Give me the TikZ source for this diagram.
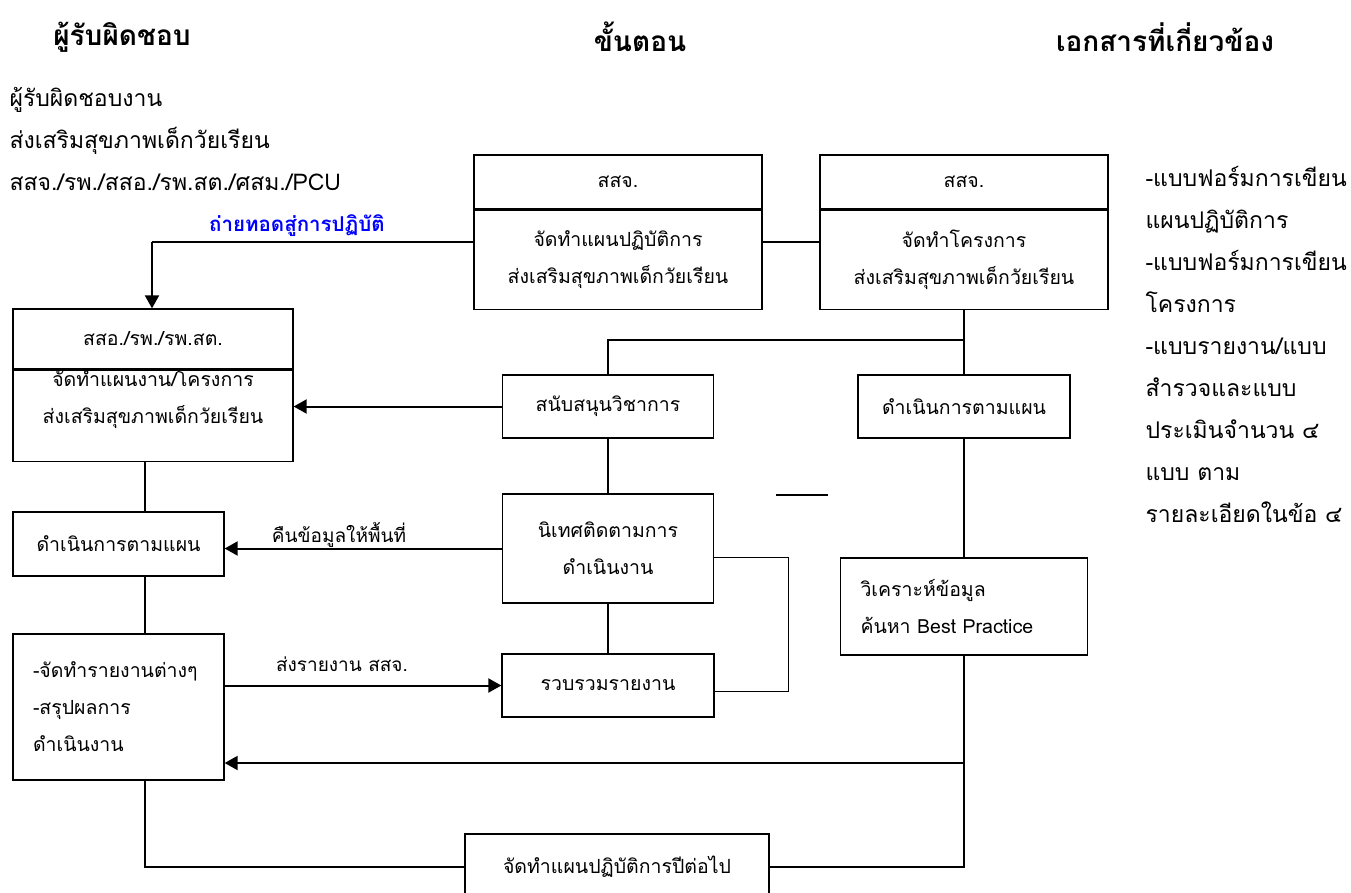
\documentclass[tikz,border=0pt]{standalone}
\usepackage{fontspec}
\setmainfont{Loma}[Script=Thai]
\usetikzlibrary{arrows.meta,positioning}

\tikzset{
  box/.style={draw, line width=1.3pt, align=center, inner sep=2pt, font=\fontsize{19.5}{37}\selectfont},
  conn/.style={line width=1.3pt},
  arr/.style={line width=2pt, -{Triangle[length=13pt,width=14pt]}},
  lbl/.style={font=\fontsize{19}{24}\selectfont},
  head/.style={font=\bfseries\fontsize{28}{32}\selectfont},
  side/.style={anchor=west, align=left, font=\fontsize{23}{42}\selectfont},
}

\begin{document}
\begin{tikzpicture}[x=1pt,y=-1pt]
  \useasboundingbox (0,0) rectangle (1351,892);

  % column heads
  \node[head] (hwho)  at (122,37)  {ผู้รับผิดชอบ};
  \node[head] (hstep) at (640,37)  {ขั้นตอน};
  \node[head] (hdoc)  at (1165,37) {เอกสารที่เกี่ยวข้อง};

  \node[side] (who) at (6,139) {ผู้รับผิดชอบงาน\\ส่งเสริมสุขภาพเด็กวัยเรียน\\สสจ./รพ./สสอ./รพ.สต./ศสม./PCU};
  \node[side] (docs) at (1142,344) {-แบบฟอร์มการเขียน\\แผนปฏิบัติการ\\-แบบฟอร์มการเขียน\\โครงการ\\-แบบรายงาน/แบบ\\สำรวจและแบบ\\ประเมินจำนวน ๔\\แบบ ตาม\\รายละเอียดในข้อ ๔};

  % top row
  \node[box, minimum width=288pt, minimum height=54pt] (pjh) at (618,182) {สสจ.};
  \node[box, minimum width=288pt, minimum height=99pt, below=0pt of pjh] (pj) {จัดทำแผนปฏิบัติการ\\ส่งเสริมสุขภาพเด็กวัยเรียน};
  \node[box, minimum width=288pt, minimum height=54pt] (prh) at (964,182) {สสจ.};
  \node[box, minimum width=288pt, minimum height=99pt, below=0pt of prh] (pr) {จัดทำโครงการ\\ส่งเสริมสุขภาพเด็กวัยเรียน};

  % left column
  \node[box, minimum width=280pt, minimum height=60pt] (amph) at (153,339) {สสอ./รพ./รพ.สต.};
  \node[box, minimum width=280pt, minimum height=91pt, below=0pt of amph] (amp) {};
  \node[box, draw=none] (amptx) at (153,399) {จัดทำแผนงาน/โครงการ\\ส่งเสริมสุขภาพเด็กวัยเรียน};
  \node[box, minimum width=211pt, minimum height=64pt] (doL) at (118.5,544) {ดำเนินการตามแผน};
  \node[box, minimum width=211pt, minimum height=146pt, inner xsep=20pt, text width=171pt, align=left] (rep) at (118.5,707) {-จัดทำรายงานต่างๆ\\-สรุปผลการ\\ดำเนินงาน};

  % middle column
  \node[box, minimum width=211pt, minimum height=63pt] (sup) at (608,406.5) {สนับสนุนวิชาการ};
  \node[box, minimum width=211pt, minimum height=109pt] (vis) at (608,548.5) {นิเทศติดตามการ\\ดำเนินงาน};
  \node[box, minimum width=212pt, minimum height=63pt] (col) at (608,685.5) {รวบรวมรายงาน};
  \node[box, minimum width=304pt, minimum height=66pt] (next) at (617,867) {จัดทำแผนปฏิบัติการปีต่อไป};

  % right column
  \node[box, minimum width=212pt, minimum height=63pt] (doR) at (964,406.5) {ดำเนินการตามแผน};
  \node[box, minimum width=247pt, minimum height=97pt, inner xsep=20pt, text width=207pt, align=left] (ana) at (964,606.5) {วิเคราะห์ข้อมูล\\ค้นหา Best Practice};

  \coordinate (tr) at (152,242);
  \coordinate (jn) at (964,340);
  \coordinate (lx) at (145,0);
  \coordinate (fb) at (964,763);

  % connectors
  \draw[conn] (pj.west |- tr) -- (tr);
  \draw[arr] (tr) -- (amph.north -| tr);
  \node[lbl, text=blue, font=\bfseries\fontsize{20.5}{24}\selectfont] (tlbl) at (297,226) {ถ่ายทอดสู่การปฏิบัติ};
  \draw[conn] (pj.east |- tr) -- (pr.west |- tr);
  \draw[conn] (pr.south) -- (doR.north);
  \draw[conn] (doR.south) -- (ana.north);
  \draw[conn] (ana.south) -- (ana.south |- next.east) -- (next.east);
  \draw[conn] (jn) -- (jn -| sup.north) -- (sup.north);
  \draw[arr] (sup.west) -- (sup.west -| amp.east);
  \draw[conn] (sup.south) -- (vis.north);
  \draw[conn] (vis.south) -- (col.north);
  \draw[conn] ([yshift=-9pt]vis.east) -- ++(74,0) |- ([yshift=-6pt]col.east);
  \draw[conn] (amp.south -| lx) -- (doL.north -| lx);
  \draw[conn] (doL.south -| lx) -- (rep.north -| lx);
  \draw[arr] (vis.west) -- (vis.west -| doL.east);
  \node[lbl] (fbl) at (339,535) {คืนข้อมูลให้พื้นที่};
  \draw[arr] (col.west -| rep.east) -- (col.west);
  \node[lbl] (sbl) at (342,664) {ส่งรายงาน สสจ.};
  \draw[arr] (fb) -- (fb -| rep.east);
  \draw[conn] (rep.south -| lx) |- (next.west);
  \draw[conn] (776,495) -- (828,495);
\end{tikzpicture}
\end{document}
